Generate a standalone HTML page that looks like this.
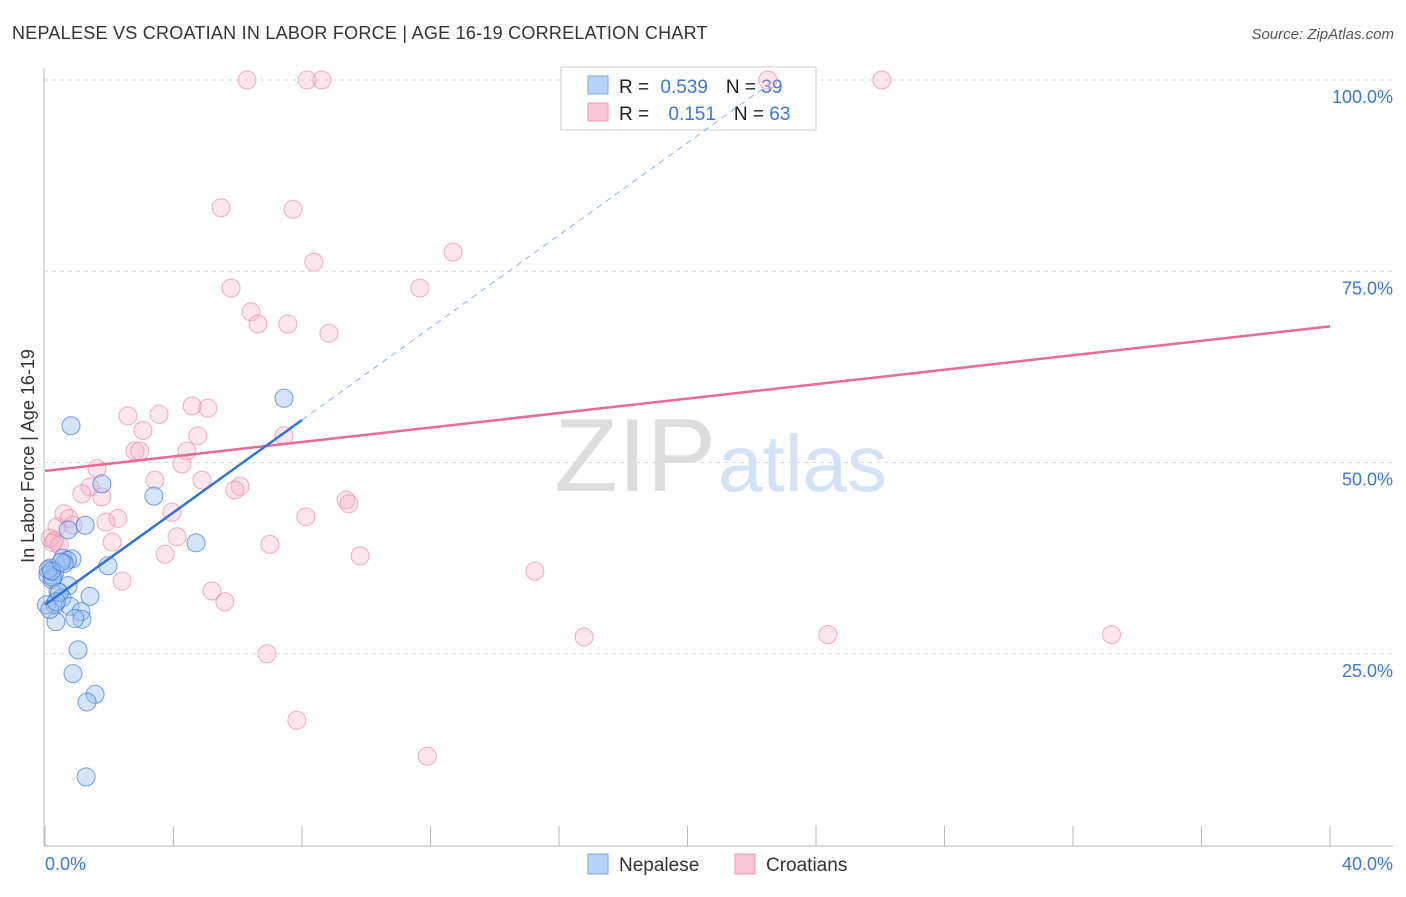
<!DOCTYPE html>
<html><head><meta charset="utf-8"><style>
body{margin:0;background:#fff;font-family:"Liberation Sans",sans-serif;}
svg text{font-family:"Liberation Sans",sans-serif;}
</style></head><body>
<svg id="chart" width="1406" height="892" xmlns="http://www.w3.org/2000/svg">
<text x="12" y="39" font-size="18" fill="#333" letter-spacing="0.25">NEPALESE VS CROATIAN IN LABOR FORCE | AGE 16-19 CORRELATION CHART</text>
<text x="1394" y="39" font-size="15" fill="#555" font-style="italic" text-anchor="end">Source: ZipAtlas.com</text>
<g id="grid"></g>
<text x="716" y="491" font-size="104" font-family="Liberation Serif" fill="#ddd" text-anchor="end">ZIP</text>
<text x="718" y="491" font-size="80" fill="#d3e2f4">atlas</text>
<g>
<rect x="561" y="67" width="255" height="63" fill="#fff" stroke="#ccc"/>
<rect x="588" y="76" width="20" height="18" fill="#b7d2f5" stroke="#79a8e6"/>
<rect x="588" y="103" width="20" height="18" fill="#fac5d6" stroke="#ee9ab6"/>
<text x="619" y="93" font-size="19" fill="#222">R = <tspan fill="#3b78d4" dx="6">0.539</tspan><tspan dx="18" fill="#222">N = </tspan><tspan fill="#3b78d4">39</tspan></text>
<text x="619" y="120" font-size="19" fill="#222">R = <tspan fill="#3b78d4" dx="14">0.151</tspan><tspan dx="18" fill="#222">N = </tspan><tspan fill="#3b78d4">63</tspan></text>
</g>
<g id="marks"></g>
<text transform="translate(34,456) rotate(-90)" font-size="18" fill="#333" text-anchor="middle">In Labor Force | Age 16-19</text>
<g>
<rect x="588" y="854" width="20" height="20" fill="#b7d2f5" stroke="#79a8e6"/>
<text x="619" y="871" font-size="19" fill="#333">Nepalese</text>
<rect x="735" y="854" width="20" height="20" fill="#fac5d6" stroke="#ee9ab6"/>
<text x="766" y="871" font-size="19" fill="#333">Croatians</text>
</g>
</svg>
<script>
const yTicks=[25,50,75,100];
const yTickLabels=["25.0%","50.0%","75.0%","100.0%"];
const xTicks=[0,4,8,12,16,20,24,28,32,36,40];
const nepX=[0.81,7.44,1.77,3.39,1.25,0.72,4.70,0.56,0.84,0.70,1.96,0.16,0.31,0.09,0.22,0.72,0.40,1.40,0.53,0.31,0.78,1.12,1.15,0.93,0.34,1.03,0.87,1.56,1.31,1.28,0.05,0.25,0.10,0.45,0.60,0.15,0.35,0.20,0.50];
const nepY=[54.8,58.4,47.2,45.6,41.8,41.2,39.5,37.5,37.4,37.2,36.5,36.2,35.7,35.3,34.7,33.9,33.1,32.5,32.3,31.4,31.2,30.5,29.5,29.6,29.2,25.5,22.4,19.7,18.7,8.9,31.4,35.0,36.0,33.0,36.8,30.8,31.8,35.8,37.0];
const croX=[6.29,8.16,8.62,22.5,26.05,5.48,7.72,12.7,8.37,5.79,11.67,6.41,6.63,7.56,8.84,2.58,3.55,4.58,5.07,3.05,4.76,7.44,2.80,4.42,4.26,1.62,3.42,4.89,1.40,6.07,5.91,1.15,1.77,9.37,9.46,0.59,3.95,0.75,2.27,8.12,1.90,0.87,0.37,0.16,0.25,2.09,4.11,7.00,3.74,9.81,15.25,2.40,5.20,5.60,16.78,24.37,33.2,6.91,7.84,11.9,2.95,0.30,0.45];
const croY=[100,100,100,100,100,83.3,83.1,77.5,76.2,72.8,72.8,69.7,68.1,68.1,66.9,56.1,56.3,57.4,57.1,54.2,53.5,53.5,51.5,51.5,49.8,49.2,47.7,47.7,46.8,46.9,46.4,45.9,45.5,45.1,44.6,43.3,43.5,42.7,42.7,42.9,42.2,41.8,41.6,40.1,39.5,39.6,40.3,39.3,38.0,37.8,35.8,34.5,33.2,31.8,27.2,27.5,27.5,25.0,16.3,11.6,51.5,39.8,39.2];
const nepTrend=[31.4,3.02];
const croTrend=[48.9,0.4725];
const X0=45,X1=1330,Y0=845,Y100=80;
const sx=v=>X0+(X1-X0)*v/40, sy=v=>Y0-(Y0-Y100)*v/100;
const NS="http://www.w3.org/2000/svg";
function mk(t,a,p){const e=document.createElementNS(NS,t);for(const k in a)e.setAttribute(k,a[k]);p.appendChild(e);return e;}
const g=document.getElementById('grid'),m=document.getElementById('marks');
let ax=mk('line',{x1:44,y1:68,x2:44,y2:846,stroke:'#bbb'},g);


let bx=mk('line',{x1:44,y1:846,x2:1393,y2:846,stroke:'#bbb'},g);


yTicks.forEach((t,i)=>{
 const l=mk('line',{x1:44,x2:1393,y1:sy(t),y2:sy(t),stroke:'#ddd','stroke-dasharray':'4,4'},g);
 
 
 const tx=mk('text',{x:1393,y:sy(t)+23,'font-size':18,fill:'#3b78d4','text-anchor':'end'},g);
 tx.textContent=yTickLabels[i];
 
 
});
xTicks.forEach(t=>{
 const l=mk('line',{x1:sx(t),x2:sx(t),y1:826,y2:846,stroke:'#bbb'},g);
 
 
});
let xl=mk('text',{x:45,y:870,'font-size':18,fill:'#3b78d4'},g);xl.textContent='0.0%';


let xr=mk('text',{x:1393,y:870,'font-size':18,fill:'#3b78d4','text-anchor':'end'},g);xr.textContent='40.0%';


croX.forEach((x,i)=>{
 const c=mk('circle',{cx:sx(x),cy:sy(croY[i]),r:9,fill:'rgba(246,170,195,0.3)',stroke:'rgba(232,130,165,0.65)','stroke-width':1},m);
 
 
});
nepX.forEach((x,i)=>{
 const c=mk('circle',{cx:sx(x),cy:sy(nepY[i]),r:9,fill:'rgba(150,190,240,0.4)',stroke:'rgba(60,120,210,0.7)','stroke-width':1},m);
 
 
});
let ct=mk('line',{x1:sx(0),y1:sy(croTrend[0]),x2:sx(40),y2:sy(croTrend[0]+40*croTrend[1]),stroke:'#e8699a','stroke-width':2.5},m);


const xe=(100-nepTrend[0])/nepTrend[1];
let nd=mk('line',{x1:sx(8),y1:sy(nepTrend[0]+8*nepTrend[1]),x2:sx(xe),y2:sy(100),stroke:'#8fb3e3','stroke-width':1,'stroke-dasharray':'6,5'},m);


let nt=mk('line',{x1:sx(0),y1:sy(nepTrend[0]),x2:sx(8),y2:sy(nepTrend[0]+8*nepTrend[1]),stroke:'#2f73d6','stroke-width':2.5},m);


</script>
</body></html>
